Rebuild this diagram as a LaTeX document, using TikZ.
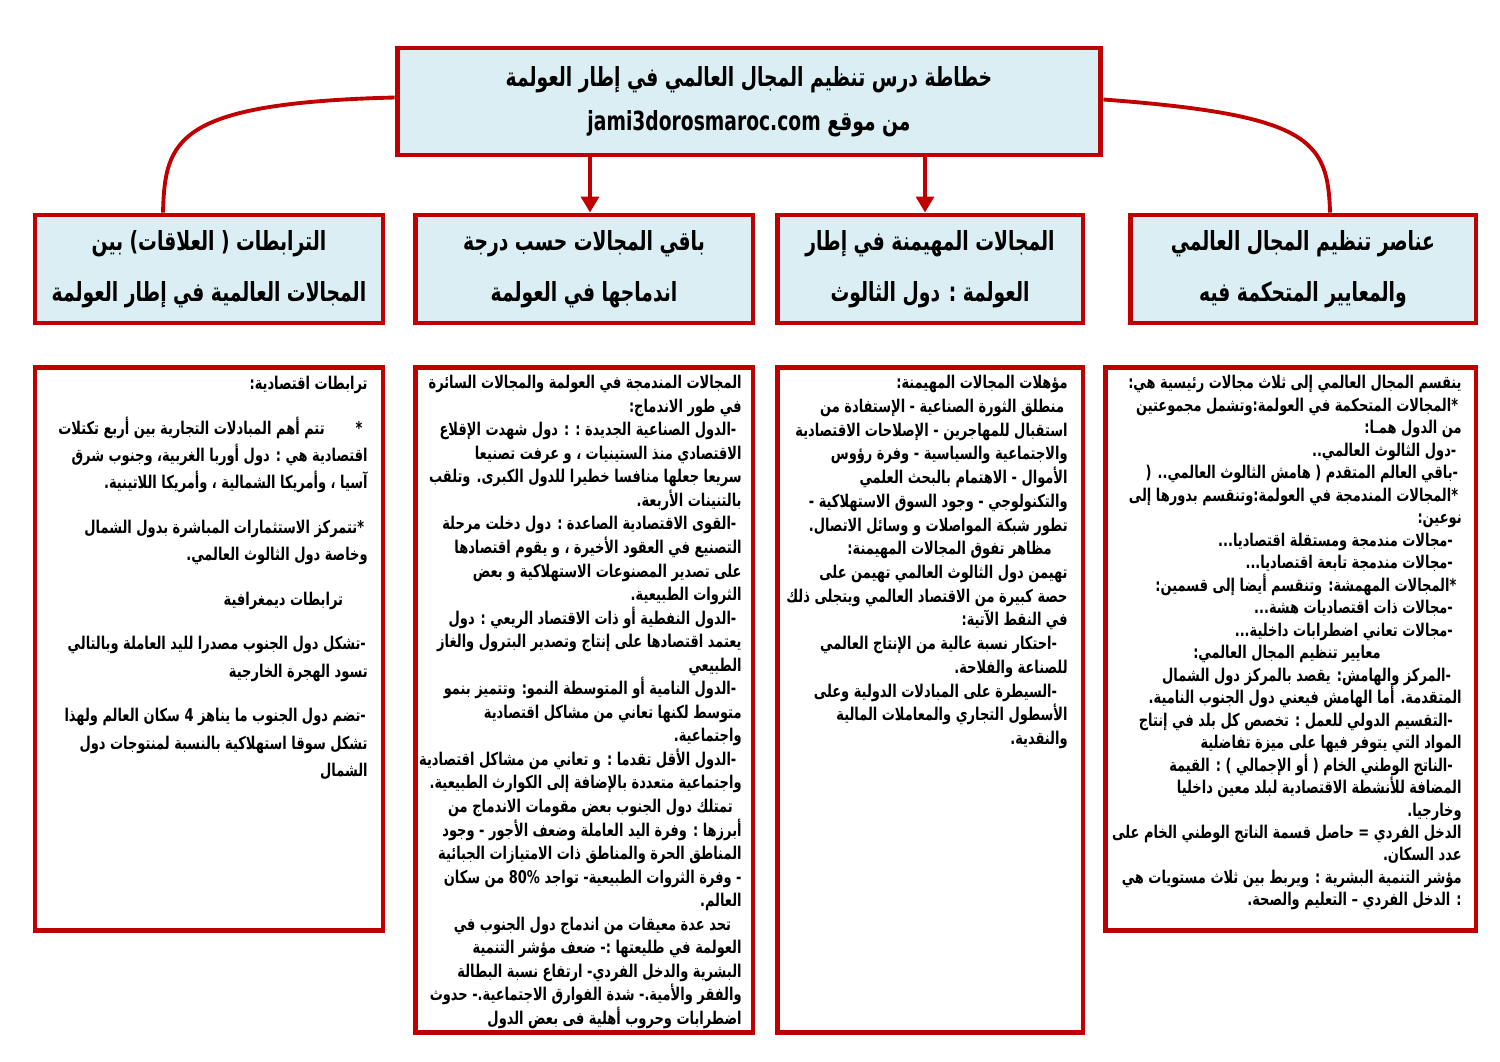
\documentclass[tikz,border=0pt]{standalone}
\usepackage{fontspec}
\usetikzlibrary{calc,arrows.meta}
\TeXXeTstate=1
\newfontfamily\headfont[Script=Arabic,FakeStretch=0.71]{DejaVu Sans}
\newfontfamily\arabicfont[Script=Arabic,FakeStretch=0.74]{DejaVu Sans}
\definecolor{boxred}{RGB}{192,0,0}
\definecolor{boxblue}{RGB}{218,238,243}

\tikzset{
  headbox/.style={draw=boxred, fill=boxblue, line width=2.8pt, inner sep=0pt, align=center,
    font=\headfont\bfseries\fontsize{15}{29}\selectfont},
  textbox/.style={draw=boxred, fill=white, line width=2.8pt, inner sep=0pt},
  bodytext/.style={anchor=north east, inner sep=0pt, align=right,
    font=\arabicfont\bfseries\fontsize{10}{#1}\selectfont},
  bodytext/.default=13,
  link/.style={draw=boxred, line width=2.2pt},
  arr/.style={link, -{Triangle[length=9pt,width=10pt]}}
}

\begin{document}
\begin{tikzpicture}[x=0.02cm, y=-0.02cm]
  \useasboundingbox (0,0) rectangle (1500,1061);
  % Title
  \node[headbox, minimum width=14.08cm, minimum height=2.14cm, font=\headfont\bfseries\fontsize{15}{25}\selectfont]
    (title) at (749,101.5) {\beginR خطاطة درس تنظيم المجال العالمي في إطار العولمة\endR\\
    \beginR من موقع \beginL jami3dorosmaroc.com\endL\endR};
  % Header boxes
  \node[headbox, minimum width=6.96cm, minimum height=2.16cm] (h1) at (209,269)
    {\beginR الترابطات ( العلاقات) بين\endR\\\beginR المجالات العالمية في إطار العولمة\endR};
  \node[headbox, minimum width=6.76cm, minimum height=2.16cm] (h2) at (584,269)
    {\beginR باقي المجالات حسب درجة\endR\\\beginR اندماجها في العولمة\endR};
  \node[headbox, minimum width=6.12cm, minimum height=2.16cm] (h3) at (930,269)
    {\beginR المجالات المهيمنة في إطار\endR\\\beginR العولمة : دول الثالوث\endR};
  \node[headbox, minimum width=6.92cm, minimum height=2.16cm] (h4) at (1303,269)
    {\beginR عناصر تنظيم المجال العالمي\endR\\\beginR والمعايير المتحكمة فيه\endR};
  % Content boxes
  \node[textbox, minimum width=6.96cm, minimum height=11.28cm] (c1) at (209,649) {};
  \node[textbox, minimum width=6.76cm, minimum height=13.32cm] (c2) at (584,700) {};
  \node[textbox, minimum width=6.12cm, minimum height=13.32cm] (c3) at (930,700) {};
  \node[textbox, minimum width=7.42cm, minimum height=11.28cm] (c4) at (1290.5,649) {};
  % Connectors
  \draw[link] ($(title.west)+(0,-4)$) .. controls (175,103) and (165,140) .. ($(h1.north)+(-46,0)$);
  \draw[link] ($(title.east)+(0,-2)$) .. controls (1310,115) and (1328,140) .. ($(h4.north)+(27,0)$);
  \draw[arr] ($(title.south -| h2.north)+(6,0)$) -- ($(h2.north)+(6,0)$);
  \draw[arr] ($(title.south -| h3.north)+(-5,0)$) -- ($(h3.north)+(-5,0)$);
  % Texts of the content boxes
  \node[bodytext=12.8] (t4) at (1462,375) {%
    \beginR ينقسم المجال العالمي إلى ثلاث مجالات رئيسية هي:\endR\\
    \beginR *المجالات المتحكمة في العولمة:وتشمل مجموعتين\endR\kern2pt\\
    \beginR من الدول همـا:\endR\\
    \beginR -دول الثالوث العالمي..\endR\kern3pt\\
    \beginR -باقي العالم المتقدم ( هامش الثالوث العالمي.. (\endR\kern2pt\\
    \beginR *المجالات المندمجة في العولمة:وتنقسم بدورها إلى\endR\kern2pt\\
    \beginR نوعين:\endR\\
    \beginR -مجالات مندمجة ومستقلة اقتصاديا...\endR\kern5pt\\
    \beginR -مجالات مندمجة تابعة اقتصاديا...\endR\kern5pt\\
    \beginR *المجالات المهمشة: وتنقسم أيضا إلى قسمين:\endR\kern3pt\\
    \beginR -مجالات ذات اقتصاديات هشة...\endR\kern5pt\\
    \beginR -مجالات تعاني اضطرابات داخلية...\endR\kern5pt\\
    \beginR معايير تنظيم المجال العالمي:\endR\kern46pt\\
    \beginR -المركز والهامش: يقصد بالمركز دول الشمال\endR\kern6pt\\
    \beginR المتقدمة. أما الهامش فيعني دول الجنوب النامية.\endR\\
    \beginR -التقسيم الدولي للعمل : تخصص كل بلد في إنتاج\endR\kern5pt\\
    \beginR المواد التي يتوفر فيها على ميزة تفاضلية\endR\\
    \beginR -الناتج الوطني الخام ( أو الإجمالي ) : القيمة\endR\kern5pt\\
    \beginR المضافة للأنشطة الاقتصادية لبلد معين داخليا\endR\\
    \beginR وخارجيا.\endR\\
    \beginR الدخل الفردي = حاصل قسمة الناتج الوطني الخام على\endR\\
    \beginR عدد السكان.\endR\\
    \beginR مؤشر التنمية البشرية : ويربط بين ثلاث مستويات هي\endR\\
    \beginR : الدخل الفردي – التعليم والصحة.\endR};
  \node[bodytext=13.5] (t3) at (1068,375) {%
    \beginR مؤهلات المجالات المهيمنة:\endR\\
    \beginR منطلق الثورة الصناعية - الإستفادة من\endR\kern2pt\\
    \beginR استقبال للمهاجرين - الإصلاحات الاقتصادية\endR\\
    \beginR والاجتماعية والسياسية - وفرة رؤوس\endR\\
    \beginR الأموال - الاهتمام بالبحث العلمي\endR\\
    \beginR والتكنولوجي - وجود السوق الاستهلاكية -\endR\\
    \beginR تطور شبكة المواصلات و وسائل الاتصال.\endR\\
    \beginR مظاهر تفوق المجالات المهيمنة:\endR\kern9pt\\
    \beginR تهيمن دول الثالوث العالمي تهيمن على\endR\\
    \beginR حصة كبيرة من الاقتصاد العالمي ويتجلى ذلك\endR\\
    \beginR في النقط الآتية:\endR\\
    \beginR -احتكار نسبة عالية من الإنتاج العالمي\endR\kern6pt\\
    \beginR للصناعة والفلاحة.\endR\\
    \beginR -السيطرة على المبادلات الدولية وعلى\endR\kern6pt\\
    \beginR الأسطول التجاري والمعاملات المالية\endR\\
    \beginR والنقدية.\endR};
  \node[bodytext=13.4] (t2) at (742,375) {%
    \beginR المجالات المندمجة في العولمة والمجالات السائرة\endR\\
    \beginR في طور الاندماج:\endR\\
    \beginR -الدول الصناعية الجديدة : : دول شهدت الإقلاع\endR\kern3pt\\
    \beginR الاقتصادي منذ الستينيات ، و عرفت تصنيعا\endR\\
    \beginR سريعا جعلها منافسا خطيرا للدول الكبرى. وتلقب\endR\\
    \beginR بالتنينات الأربعة.\endR\\
    \beginR -القوى الاقتصادية الصاعدة : دول دخلت مرحلة\endR\kern3pt\\
    \beginR التصنيع في العقود الأخيرة ، و يقوم اقتصادها\endR\\
    \beginR على تصدير المصنوعات الاستهلاكية و بعض\endR\\
    \beginR الثروات الطبيعية.\endR\\
    \beginR -الدول النفطية أو ذات الاقتصاد الريعي : دول\endR\kern3pt\\
    \beginR يعتمد اقتصادها على إنتاج وتصدير البترول والغاز\endR\\
    \beginR الطبيعي\endR\\
    \beginR -الدول النامية أو المتوسطة النمو: وتتميز بنمو\endR\kern3pt\\
    \beginR متوسط لكنها تعاني من مشاكل اقتصادية\endR\\
    \beginR واجتماعية.\endR\\
    \beginR -الدول الأقل تقدما : و تعاني من مشاكل اقتصادية\endR\kern3pt\\
    \beginR واجتماعية متعددة بالإضافة إلى الكوارث الطبيعية.\endR\\
    \beginR تمتلك دول الجنوب بعض مقومات الاندماج من\endR\kern5pt\\
    \beginR أبرزها : وفرة اليد العاملة وضعف الأجور - وجود\endR\\
    \beginR المناطق الحرة والمناطق ذات الامتيازات الجبائية\endR\\
    \beginR - وفرة الثروات الطبيعية- تواجد 80\% من سكان\endR\\
    \beginR العالم.\endR\\
    \beginR تحد عدة معيقات من اندماج دول الجنوب في\endR\kern6pt\\
    \beginR العولمة في طليعتها :- ضعف مؤشر التنمية\endR\\
    \beginR البشرية والدخل الفردي- ارتفاع نسبة البطالة\endR\\
    \beginR والفقر والأمية.- شدة الفوارق الاجتماعية.- حدوث\endR\\
    \beginR اضطرابات وحروب أهلية فى بعض الدول\endR};
  \node[bodytext=15.6] (t1) at (368,376) {%
    \beginR ترابطات اقتصادية:\endR\\[9.7pt]
    \beginR * \hspace{1.5em}تتم أهم المبادلات التجارية بين أربع تكتلات\endR\kern3pt\\
    \beginR اقتصادية هي : دول أوربا الغربية، وجنوب شرق\endR\\
    \beginR آسيا ، وأمريكا الشمالية ، وأمريكا اللاتينية.\endR\\[9.7pt]
    \beginR *تتمركز الاستثمارات المباشرة بدول الشمال\endR\kern2pt\\
    \beginR وخاصة دول الثالوث العالمي.\endR\\[9.7pt]
    \beginR ترابطات ديمغرافية\endR\kern14pt\\[9.7pt]
    \beginR -تشكل دول الجنوب مصدرا لليد العاملة وبالتالي\endR\kern1pt\\
    \beginR تسود الهجرة الخارجية\endR\\[9.7pt]
    \beginR -تضم دول الجنوب ما يناهز 4 سكان العالم ولهذا\endR\kern1pt\\
    \beginR تشكل سوقا استهلاكية بالنسبة لمنتوجات دول\endR\\
    \beginR الشمال\endR};
\end{tikzpicture}
\end{document}
